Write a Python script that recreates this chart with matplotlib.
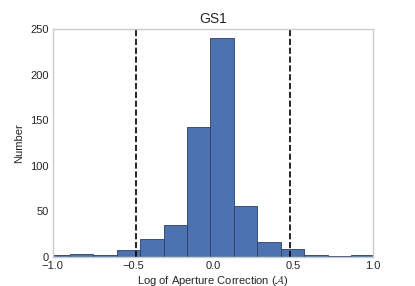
import matplotlib
matplotlib.use("Agg")
import matplotlib.pyplot as plt
import numpy as np

# histogram bins and counts per bin
bin_edges = [-1.04, -0.894, -0.747, -0.601, -0.454, -0.308, -0.161, -0.015,
             0.132, 0.278, 0.425, 0.571, 0.718, 0.864, 1.011]
counts = [2, 3, 2, 8, 20, 35, 142, 240, 56, 17, 9, 2, 1, 2]
cut_lo, cut_hi = -0.48, 0.48

plt.rcParams["font.family"] = ["Liberation Sans", "DejaVu Sans"]
plt.rcParams["mathtext.fontset"] = "cm"

fig, ax = plt.subplots(figsize=(4.15, 2.86), dpi=100)
fig.subplots_adjust(left=0.127, right=0.899, top=0.899, bottom=0.101)

edges = np.array(bin_edges)
ax.bar(edges[:-1], counts, width=np.diff(edges), align="edge",
       color="#4C72B0", edgecolor="#2a3f66", linewidth=0.6)
ax.axvline(cut_lo, color="k", ls="--", lw=1.2)
ax.axvline(cut_hi, color="k", ls="--", lw=1.2)

ax.set_xlim(-1.0, 1.0)
ax.set_ylim(0, 250)
ax.set_xticks([-1.0, -0.5, 0.0, 0.5, 1.0])
ax.set_yticks([0, 50, 100, 150, 200, 250])
ax.tick_params(length=0, labelsize=8, colors="#262626", pad=3)
for s in ax.spines.values():
    s.set_color("#cccccc")
    s.set_linewidth(1)
ax.set_title("GS1", fontsize=10, color="#262626", pad=4)
ax.set_xlabel(r"Log of Aperture Correction ($\mathcal{A}$)", fontsize=8,
              color="#262626", labelpad=2)
ax.set_ylabel("Number", fontsize=8, color="#262626")

fig.savefig("out.png", dpi=100)
